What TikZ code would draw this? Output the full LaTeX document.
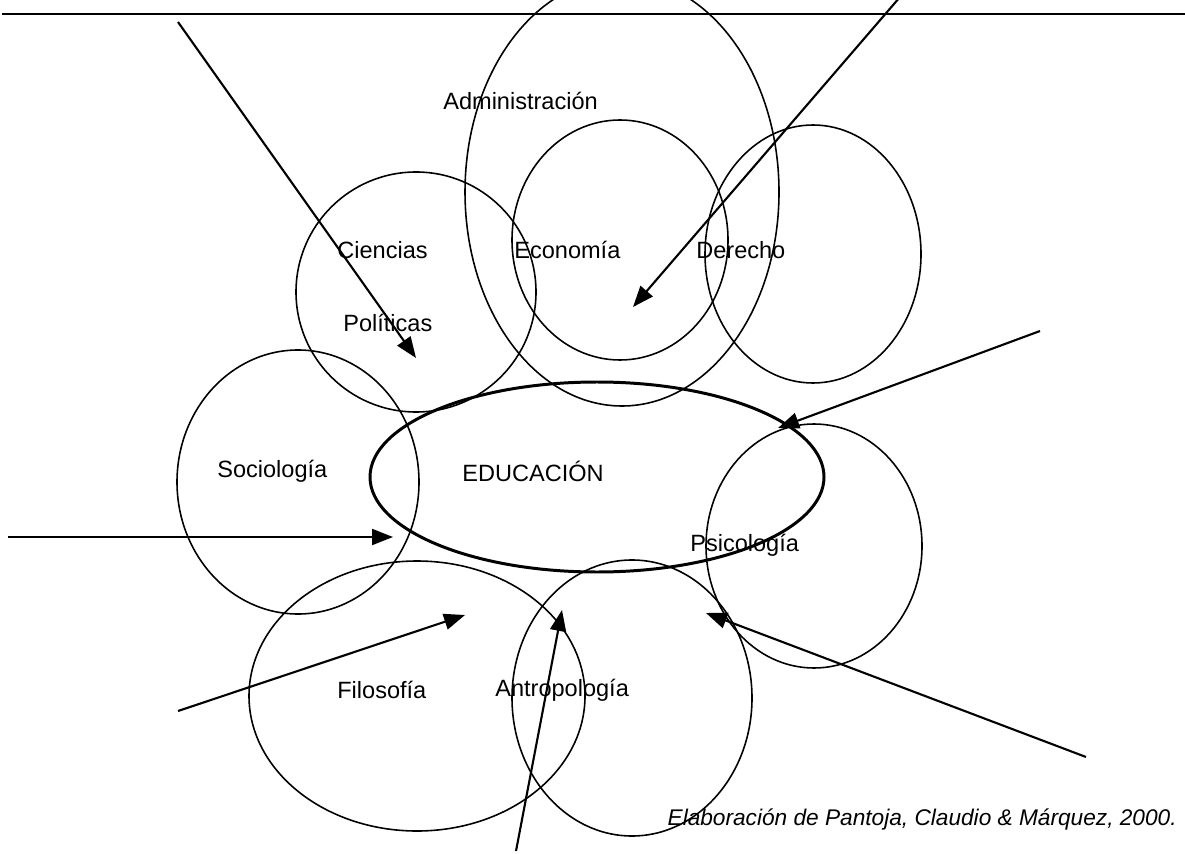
\documentclass[tikz,border=0pt]{standalone}
\usepackage{fontspec}
\setmainfont{Liberation Sans}
\usetikzlibrary{arrows.meta}
\tikzset{
  campo/.style={line width=0.9pt},
  flecha/.style={line width=1.2pt,-{Triangle[length=0.42cm,width=0.32cm]}},
  etiqueta/.style={font=\fontsize{13.4}{16}\selectfont,inner sep=0pt,anchor=west}
}
\begin{document}
\begin{tikzpicture}[x=0.02cm,y=-0.02cm]
    \clip (0,0) rectangle (1185,854);
    \draw[line width=1.4pt] (2,14) -- (1185,14);
    % campos
    \draw[campo] (622,192) ellipse [x radius=157, y radius=214];
    \draw[campo] (416,292) ellipse [x radius=120, y radius=120];
    \draw[campo] (620,240) ellipse [x radius=108, y radius=120];
    \draw[campo] (813,254) ellipse [x radius=108, y radius=129];
    \draw[campo] (298,482) ellipse [x radius=121, y radius=132];
    \draw[campo] (814,546) ellipse [x radius=108, y radius=122];
    \draw[campo] (417,696) ellipse [x radius=168, y radius=135];
    \draw[campo] (632,698) ellipse [x radius=120, y radius=138];
    \draw[line width=1.7pt] (597,477) ellipse [x radius=227, y radius=95];
    % textos
    \node[etiqueta] (adm) at (443,101) {Administración};
    \node[etiqueta] (cie) at (337,250) {Ciencias};
    \node[etiqueta] (pol) at (343,323) {Políticas};
    \node[etiqueta] (eco) at (514,250) {Economía};
    \node[etiqueta] (der) at (696,250) {Derecho};
    \node[etiqueta] (soc) at (217,471) {Sociología};
    \node[etiqueta] (edu) at (462,471) {EDUCACIÓN};
    \node[etiqueta] (psi) at (690,545) {Psicología};
    \node[etiqueta] (fil) at (337,690) {Filosofía};
    \node[etiqueta] (ant) at (495,690) {Antropología};
    \node[etiqueta,anchor=east,font=\fontsize{12.9}{15}\selectfont\itshape] (ref) at (1177,819) {Elaboración de Pantoja, Claudio \& Márquez, 2000.};
    % flechas
    \coordinate (a1) at (178,22);   \coordinate (b1) at (416,358);
    \coordinate (a2) at (900,-3);   \coordinate (b2) at (633,307);
    \coordinate (a3) at (1040,331); \coordinate (b3) at (778,428);
    \coordinate (a4) at (8,537);    \coordinate (b4) at (393,537);
    \coordinate (a5) at (178,711);  \coordinate (b5) at (465,615);
    \coordinate (a6) at (516,851);  \coordinate (b6) at (562,610);
    \coordinate (a7) at (1086,757); \coordinate (b7) at (706,613);
    \foreach \i in {1,...,7} \draw[flecha] (a\i) -- (b\i);
  \end{tikzpicture}
\end{document}
